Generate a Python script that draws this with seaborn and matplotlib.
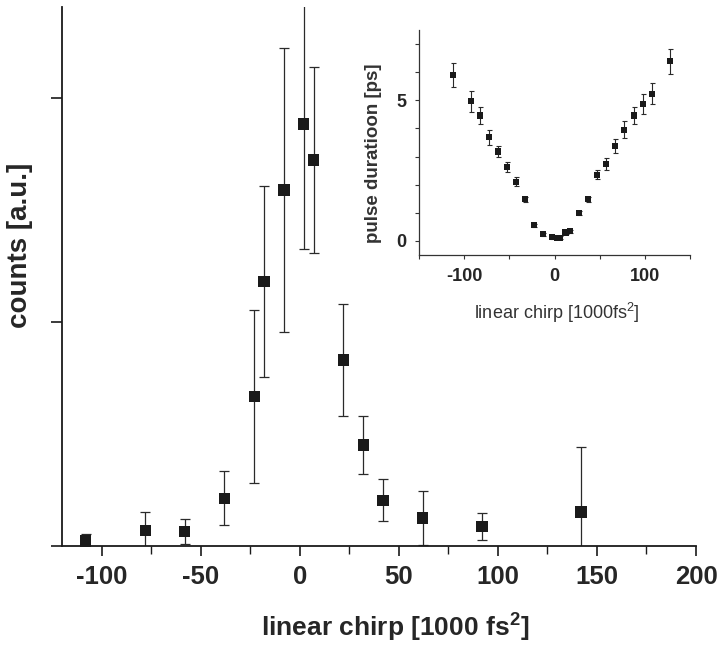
import numpy as np
import pandas as pd
import matplotlib
matplotlib.use("Agg")
import matplotlib.pyplot as plt
import seaborn as sns

# ---- main panel data ----
chirp_main = [-108, -78, -58, -38, -23, -18, -8, 2, 7, 22, 32, 42, 62, 92, 142]
counts = [0.022, 0.070, 0.064, 0.213, 0.668, 1.18, 1.589, 1.884, 1.723, 0.830, 0.451, 0.204, 0.125, 0.088, 0.152]
counts_err = [0.03, 0.08, 0.055, 0.12, 0.386, 0.427, 0.634, 0.558, 0.415, 0.249, 0.131, 0.094, 0.12, 0.059, 0.29]

# ---- inset data ----
chirp_inset = [-112.6, -92.6, -82.6, -72.6, -62.6, -52.6, -42.6, -33.0, -22.9, -13.0, -2.6, 2.5, 6.5,
               12.2, 17.4, 27.4, 37.4, 47.4, 57.4, 67.4, 77.4, 87.8, 97.8, 107.8, 127.8]
duration = [5.89, 4.96, 4.46, 3.68, 3.18, 2.62, 2.11, 1.48, 0.56, 0.24, 0.13, 0.12, 0.12,
            0.30, 0.35, 0.99, 1.48, 2.35, 2.74, 3.38, 3.96, 4.46, 4.88, 5.24, 6.39]
duration_err = [0.42, 0.36, 0.31, 0.26, 0.21, 0.18, 0.15, 0.10, 0.06, 0.05, 0.05, 0.05, 0.05,
                0.05, 0.05, 0.07, 0.10, 0.16, 0.20, 0.25, 0.29, 0.31, 0.35, 0.37, 0.45]

main_xticks = [-100, -50, 0, 50, 100, 150, 200]
inset_xticks = [-100, 0, 100]
inset_yticks = [0, 5]

sns.set_style("ticks")
plt.rcParams['font.family'] = ['Liberation Sans', 'DejaVu Sans']
plt.rcParams['mathtext.fontset'] = 'custom'
plt.rcParams['mathtext.rm'] = 'Liberation Sans'
plt.rcParams['mathtext.bf'] = 'Liberation Sans:bold'

fig = plt.figure(figsize=(7.22, 6.48), dpi=100)
ax = fig.add_axes([62/722, 1-546/648, (696-62)/722, (546-7)/648])

df_main = pd.DataFrame({"chirp": chirp_main, "counts": counts})
ax.errorbar(chirp_main, counts, yerr=counts_err, fmt='none', ecolor='#2a2a2a',
            elinewidth=0.9, capsize=3.6, capthick=0.9, zorder=2, clip_on=True)
sns.scatterplot(data=df_main, x="chirp", y="counts", marker='s', s=66, color='#1a1a1a',
                edgecolor='none', ax=ax, zorder=3, clip_on=False)

ax.set_xlim(-120, 200)
ax.set_ylim(0, 2.406)
ax.set_xticks(main_xticks)
ax.set_xticks([-75, -25, 25, 75, 125, 175], minor=True)
ax.set_yticks([0, 1, 2])
ax.set_yticklabels([])
ax.set_xticklabels([str(v) for v in main_xticks], fontsize=18.5, fontweight='bold')
ax.tick_params(axis='x', which='major', direction='out', length=7, width=1.2, pad=7, color='#1a1a1a')
ax.tick_params(axis='x', which='minor', direction='out', length=6, width=1.0, color='#1a1a1a')
ax.tick_params(axis='y', which='major', direction='out', length=8, width=1.2, color='#1a1a1a')
for s in ['top', 'right']:
    ax.spines[s].set_visible(False)
for s in ['left', 'bottom']:
    ax.spines[s].set_linewidth(1.3)
    ax.spines[s].set_color('#1a1a1a')
ax.set_xlabel("linear chirp [1000 fs$^{\\mathbf{2}}$]", fontsize=19, fontweight='bold')
ax.xaxis.set_label_coords(0.525, -0.118)
ax.set_ylabel("counts [a.u.]", fontsize=20, fontweight='bold')
ax.yaxis.set_label_coords(-0.046, 0.558)

# ---- inset ----
ax2 = fig.add_axes([419/722, 1-255/648, (690-419)/722, (255-30)/648])
df_in = pd.DataFrame({"chirp": chirp_inset, "duration": duration})
ax2.errorbar(chirp_inset, duration, yerr=duration_err, fmt='none', ecolor='#2a2a2a',
             elinewidth=0.8, capsize=1.8, capthick=0.8, zorder=2)
sns.scatterplot(data=df_in, x="chirp", y="duration", marker='s', s=19, color='#1a1a1a',
                edgecolor='none', ax=ax2, zorder=3)
ax2.set_facecolor('none')
ax2.set_xlim(-150, 150)
ax2.set_ylim(-0.5, 7.5)
ax2.set_xticks(inset_xticks)
ax2.set_xticks([-150, -50, 50, 150], minor=True)
ax2.set_yticks(inset_yticks)
ax2.set_yticks([1, 2, 3, 4, 6, 7], minor=True)
ax2.set_xticklabels([str(v) for v in inset_xticks], fontsize=13, fontweight='bold')
ax2.set_yticklabels([str(v) for v in inset_yticks], fontsize=13, fontweight='bold')
ax2.tick_params(which='both', direction='out', length=3, width=0.8, color='#333333', pad=6)
for s in ['top', 'right']:
    ax2.spines[s].set_visible(False)
for s in ['left', 'bottom']:
    ax2.spines[s].set_linewidth(0.9)
    ax2.spines[s].set_color('#333333')
ax2.set_xlabel("linear chirp [1000fs$^2$]", fontsize=13, color='#333333')
ax2.xaxis.set_label_coords((557-419)/271, -(301-255)/225)
ax2.set_ylabel("pulse duratioon [ps]", fontsize=13.5, fontweight='bold', color='#333333')
ax2.yaxis.set_label_coords(-0.137, (255-153)/225)

fig.savefig("out.png", dpi=100)
